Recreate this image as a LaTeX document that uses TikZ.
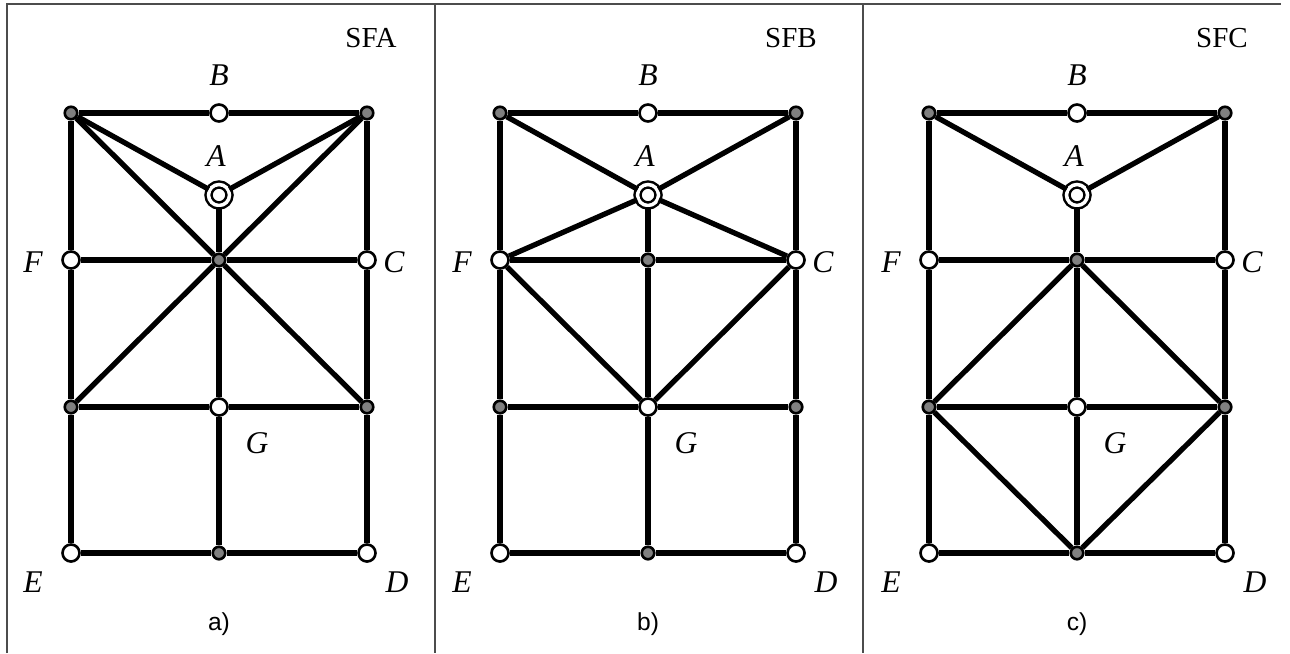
\documentclass[tikz,border=0pt]{standalone}
\usepackage{fontspec}
\setmainfont{Liberation Serif}
\newfontfamily\capfont{Liberation Sans}
\begin{document}
\begin{tikzpicture}[x=0.02cm, y=-0.02cm,
    edge/.style={line width=3pt},
    frame/.style={line width=0.9pt, draw=black!70},
    grayvert/.style={circle, draw, line width=1.5pt, fill=black!50, minimum size=0.25cm, inner sep=0pt},
    openvert/.style={circle, draw, line width=1.5pt, fill=white, minimum size=0.34cm, inner sep=0pt},
    ringvert/.style={circle, draw, line width=1.4pt, double=white, double distance=2pt, fill=white, minimum size=0.42cm, inner sep=0pt},
    lbl/.style={font=\itshape\fontsize{18}{18}\selectfont, inner sep=0pt},
    title/.style={font=\fontsize{16.5}{16.5}\selectfont, inner sep=0pt},
    caption/.style={font=\capfont\fontsize{14}{14}\selectfont, inner sep=0pt}]
  \useasboundingbox (0,0) rectangle (1290,653);
  % frame
  \draw[frame] (7,653) -- (7,4) -- (1281,4);
  \draw[frame] (435,4) -- (435,653);
  \draw[frame] (863,4) -- (863,653);
  % the three panels share the grid
  \foreach \p/\dx/\tx/\t in {a/0/371/SFA, b/429/791/SFB, c/858/1222/SFC} {
    \node[grayvert] (\p tl) at (71+\dx,113) {};
    \node[openvert] (\p b) at (219+\dx,113) {};
    \node[grayvert] (\p tr) at (367+\dx,113) {};
    \node[ringvert] (\p a) at (219+\dx,195) {};
    \node[openvert] (\p f) at (71+\dx,260) {};
    \node[grayvert] (\p m) at (219+\dx,260) {};
    \node[openvert] (\p c) at (367+\dx,260) {};
    \node[grayvert] (\p l) at (71+\dx,407) {};
    \node[openvert] (\p g) at (219+\dx,407) {};
    \node[grayvert] (\p r) at (367+\dx,407) {};
    \node[openvert] (\p e) at (71+\dx,553) {};
    \node[grayvert] (\p n) at (219+\dx,553) {};
    \node[openvert] (\p d) at (367+\dx,553) {};
    \draw[edge] (\p tl) -- (\p b) -- (\p tr);
    \draw[edge] (\p tl) -- (\p f) -- (\p l) -- (\p e);
    \draw[edge] (\p tr) -- (\p c) -- (\p r) -- (\p d);
    \draw[edge] (\p f) -- (\p m) -- (\p c);
    \draw[edge] (\p l) -- (\p g) -- (\p r);
    \draw[edge] (\p e) -- (\p n) -- (\p d);
    \draw[edge] (\p a) -- (\p m) -- (\p g) -- (\p n);
    \draw[edge] (\p tl) -- (\p a) -- (\p tr);
    \node[lbl] (\p lb) at (219+\dx,75) {B};
    \node[lbl] (\p la) at (216+\dx,156) {A};
    \node[lbl] (\p lf) at (33+\dx,262) {F};
    \node[lbl] (\p lc) at (394+\dx,262) {C};
    \node[lbl] (\p lg) at (257+\dx,443) {G};
    \node[lbl] (\p le) at (33+\dx,582) {E};
    \node[lbl] (\p ld) at (397+\dx,582) {D};
    \node[title] (\p t) at (\tx,38) {\t};
    \node[caption] (\p cap) at (219+\dx,624) {\p)};
  }
  % a) crossing diagonals
  \draw[edge] (atl) -- (am) -- (ar);
  \draw[edge] (atr) -- (am) -- (al);
  % b) bow tie through A
  \draw[edge] (bf) -- (ba) -- (bc);
  \draw[edge] (bf) -- (bg) -- (bc);
  % c) diamond
  \draw[edge] (cl) -- (cm) -- (cr);
  \draw[edge] (cl) -- (cn) -- (cr);
\end{tikzpicture}
\end{document}
